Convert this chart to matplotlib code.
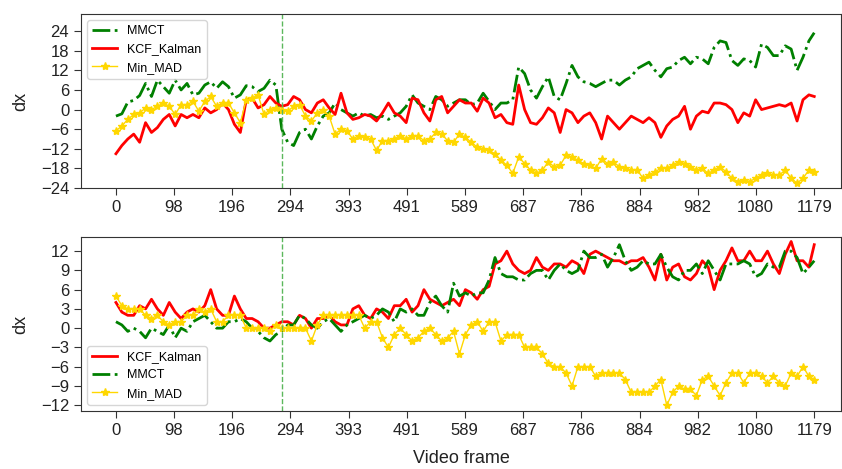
import matplotlib
matplotlib.use("Agg")
import matplotlib.pyplot as plt

plt.rcParams['font.family'] = ['Liberation Sans', 'DejaVu Sans']

# frame index of every sample
frames = list(range(0, 1180, 10)) + [1179]

# ---- upper panel ----
mmct_top = [-2, -1.3, 2.3, 2.8, 4.3, 8, 4, 9, 7, 5, 9, 6, 8, 4.5, 5, 7.5, 8.5, 6.5, 8.5, 7,
            3.5, 4.5, 7.3, 7, 5.5, 6.5, 9, 7.5, -6, -10, -11, -7, -6, -9, -5, -2, -1, 2, 0, -1,
            -2, -1, -2, -1.5, -2.5, -2, -3, -2, -1, 1, 4.5, 2, 1, 0, 4, 3, 1, 2, 3, 3,
            1.5, 2, 5, 2.5, 0, 2, 2, 3, 13, 11, 6, 3.5, 7, 10, 4, 3, 8, 13.5, 10, 8.5,
            8, 7, 8, 9, 9, 7.5, 9, 10, 12.5, 13.5, 14.5, 12, 10, 12.5, 13, 15, 16, 14, 16, 15.5,
            14, 19, 21, 20.5, 15, 13.5, 15.5, 15, 13, 20, 19, 16.5, 16.5, 19.5, 18.5, 12, 16, 21, 23.5]
kcf_top = [-13.5, -11, -9, -7.5, -10, -4, -7, -5.5, -3, -1.5, -5, -1.5, -2.5, -1.5, -2.5, 0.5, -1, 0, 2, 0,
           -4.5, -7, 3, 3.5, 0.5, 1.5, 4, 2, 1, 1.5, 4, 3, 0, -1, 2, 3, 0.5, -1.5, 5, -1,
           -3, -2.5, -1.5, -2, -3.5, -1, 2, -1, -2, -4, 3.5, 3, -1, -3.5, 3, 4, -1, 1, 3, 2,
           2, -0.5, 3.5, 2, -2.5, -1.5, -4, -4.5, 7.5, 0, -4, -4.5, -2.5, 0.5, -1, -7, 0, -1, -4, -2,
           -1, -4, -9, -2, -4, -6, -4, -2, -3, -4, -2.5, -4, -8.5, -5, -3, -2, 1, -6, -2, -0.5,
           -1, 2, 2, 1.5, 0, -4, -1, -2, 3, 0, 0.5, 1, 1.5, 1, 2, -3.5, 3, 4.5, 4]
mad_top = [-6.5, -5, -3, -1.5, -1, 0.5, 0, 1, 2, 1, -1.5, 1.5, 1.5, 2.5, -0.5, 2.5, 4, 1, 2, 2,
           -1, -4, 3, 3.5, 4.5, -1.5, 0, 0.5, 0, -0.5, 1, 1.5, -2, -3.5, -1, 0, -2, -7.5, -6, -6.5,
           -9, -8, -8.5, -9, -12.5, -9.5, -9.5, -9, -8, -9, -8, -8, -9.5, -9, -7, -7.5, -9.5, -10, -7.5, -8.5,
           -10, -11.5, -12, -12.5, -13.5, -15.5, -17, -19.5, -14.5, -16.5, -18.5, -19.5, -18.5, -16, -17.5, -17, -14, -14.5, -15.5, -16.5,
           -17, -18, -15, -16.5, -16, -17.5, -18, -18.5, -18.5, -21, -20, -19, -18, -18, -17, -16, -16.5, -17.5, -18.5, -18,
           -19.5, -18.5, -17.5, -19, -21, -22, -21.5, -22, -21, -20, -19.5, -20, -20, -18.5, -21, -22.5, -21, -18.5, -19]

# ---- lower panel ----
kcf_bot = [4, 2.5, 2, 2, 3.5, 3, 4.5, 3, 2, 4, 2.5, 1.5, 2.5, 3, 2.5, 3.5, 6, 3, 2, 2,
           5, 3, 1.5, 1.5, 1, 0, 0, 0.5, 1, 1, 0.5, 2, 1.5, 0, 1.5, 1.5, 2, 1, 0.5, 0.5,
           3, 3.5, 2, 1.5, 3, 2.5, 1.5, 3.5, 3.5, 4.5, 2.5, 3.5, 6, 4.5, 4, 3.5, 4, 4.5, 3.5, 6,
           5.5, 4.5, 6, 6.5, 10, 10.5, 12, 10, 9, 8.5, 9, 11, 9.5, 9, 10, 10, 9.5, 10.5, 10, 8.5,
           11.5, 12, 11.5, 11, 10.5, 10.5, 10, 10.5, 10.5, 11, 9.5, 7.5, 11.5, 7.5, 9.5, 10, 8, 7.5, 8.5, 10.5,
           9.5, 6, 9, 10.5, 12.5, 10.5, 10.5, 12, 10.5, 10.5, 12, 10, 8.5, 11.5, 13.5, 10.5, 10.5, 9.5, 13]
mmct_bot = [1, 0.5, -0.5, 0, -0.5, -1.5, 0, -0.5, -1, 0.5, -1.5, 0, -0.5, 1, 1.5, 2, 1, 0, 0, 1,
            1, 1.5, 1, 0, -0.5, -1.5, -2, -1, -0.5, 0.5, 0.5, 2, 1.5, 0.5, 0, 1, 1.5, 0.5, -0.5, 0.5,
            1, 1.5, 2, 1.5, 2, 3, 2.5, 1, 3, 2.5, 3, 2, 2, 4, 5, 3.5, 2.5, 7, 5, 5.5,
            5, 5.5, 5.5, 7.5, 11, 8.5, 8, 8, 7.5, 7.5, 8.5, 9, 9, 7.5, 9, 10, 9, 8.5, 9, 12,
            11, 11, 11.5, 9.5, 11, 13, 10.5, 9, 9.5, 10.5, 10, 10, 11.5, 9.5, 8, 7.5, 9, 9, 10, 8.5,
            10.5, 9, 7.5, 10, 10, 10, 10.5, 10, 8, 8.5, 10, 9.5, 9.5, 12, 12, 11, 8.5, 9.5, 10.5]
mad_bot = [5, 3.5, 3, 3, 3, 2, 1.5, 2, 1, 0.5, 1, 1, 2, 2, 3, 2.5, 3, 1, 1, 2,
           2, 2, 0, 0, 0, 0, -0.5, 0.5, 0, 0, 0, 0, 0, -2, 0.5, 2, 2, 2, 2, 2,
           2, 2, 0, 1, 1, -1.5, -3, -1, 0, -1, -2, -1.5, -0.5, 0, -1, -2, -1.5, -0.5, -4, -1,
           0.5, 1, -0.5, 1, 1, -2, -1, -1, -1, -3, -3, -3, -4, -5.5, -6, -6, -7, -9, -6, -6,
           -6, -7.5, -7, -7, -7, -7, -8, -10, -10, -10, -10, -9, -8, -12, -10, -9, -9.5, -9.5, -10.5, -8,
           -7.5, -9, -10.5, -8.5, -7, -7, -8.5, -7, -7, -7.5, -8.5, -7.5, -8.5, -9, -7, -7.5, -6, -7.5, -8]

tick_frames = [0, 98, 196, 294, 393, 491, 589, 687, 786, 884, 982, 1080, 1179]
marker_frame = 280

fig = plt.figure(figsize=(8.42, 4.69), dpi=100)
ax1 = fig.add_axes([0.0962, 0.599, 0.9025, 0.371])
ax2 = fig.add_axes([0.0962, 0.1237, 0.9025, 0.371])

ax1.plot(frames, mmct_top, color='green', linestyle='-.', linewidth=2, label='MMCT')
ax1.plot(frames, kcf_top, color='red', linewidth=2, label='KCF_Kalman')
ax1.plot(frames, mad_top, color='gold', linewidth=1, marker='*', markersize=6, label='Min_MAD')

ax2.plot(frames, kcf_bot, color='red', linewidth=2, label='KCF_Kalman')
ax2.plot(frames, mmct_bot, color='green', linestyle='-.', linewidth=2, label='MMCT')
ax2.plot(frames, mad_bot, color='gold', linewidth=1, marker='*', markersize=6, label='Min_MAD')

for ax in (ax1, ax2):
    ax.axvline(marker_frame, color='#5cb85c', linestyle='--', linewidth=1)
    ax.set_xlim(-59, 1224)
    ax.set_xticks(tick_frames)
    ax.tick_params(labelsize=12, length=5, color='#333333', labelcolor='#222222')
    ax.set_ylabel('dx', fontsize=13, labelpad=8, color='#222222')
    for s in ax.spines.values():
        s.set_color('#333333')

ax1.set_ylim(-24, 29.2)
ax1.set_yticks(range(-24, 25, 6))
ax2.set_ylim(-12.9, 14.2)
ax2.set_yticks(range(-12, 13, 3))
ax2.set_xlabel('Video frame', fontsize=13, labelpad=9, color='#222222')

ax1.legend(loc='upper left', fontsize=9)
ax2.legend(loc='lower left', fontsize=9)

fig.savefig('out.png', dpi=100)
